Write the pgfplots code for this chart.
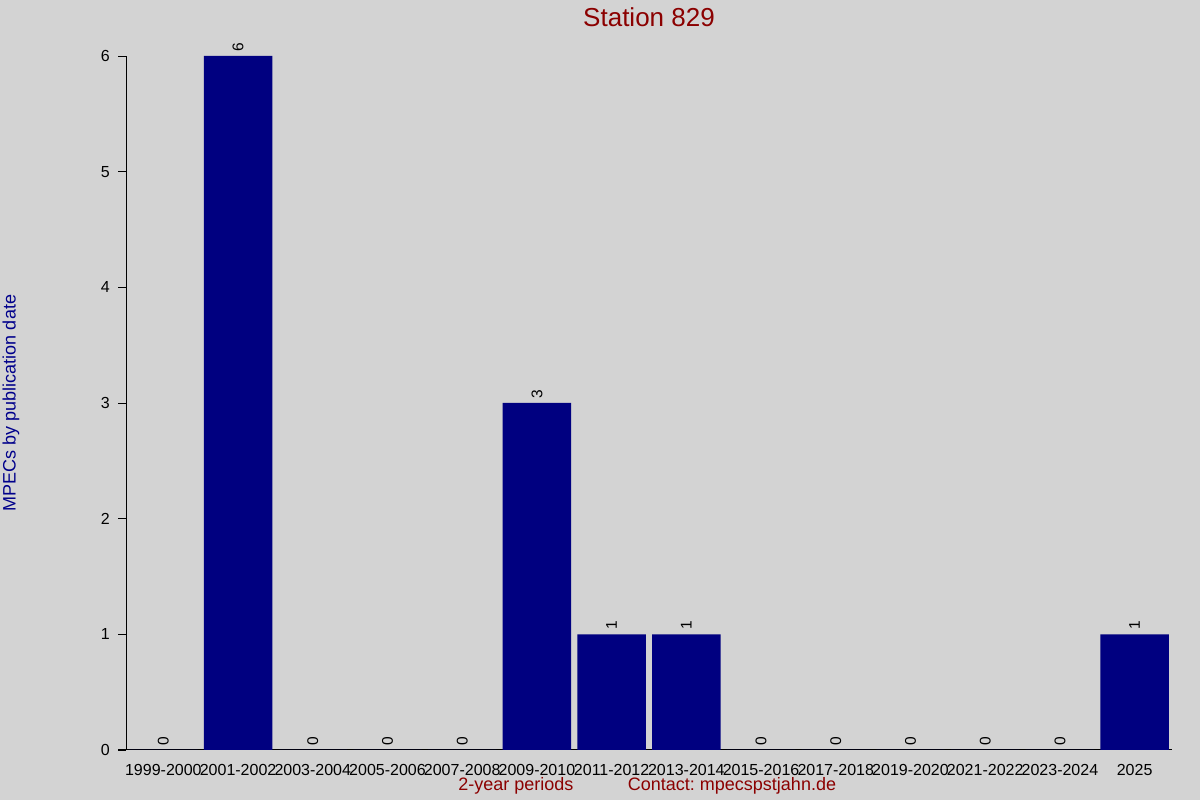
\documentclass[border=0pt]{standalone}
\usepackage{pgfplots}
\pgfplotsset{compat=1.18}
\usepackage{fontspec}
\setmainfont{Liberation Sans}
\frenchspacing
\definecolor{bg}{HTML}{D3D3D3}
\definecolor{barblue}{HTML}{000080}
\definecolor{titred}{HTML}{8B0000}
\definecolor{ylab}{HTML}{00008B}
\begin{document}
\begin{tikzpicture}[x=1pt,y=1pt]
\fill[bg] (0,0) rectangle (1200,800);
\useasboundingbox (0,0) rectangle (1200,800);
\begin{axis}[
  at={(126pt,50pt)}, anchor=south west,
  scale only axis, width=1046pt, height=694pt,
  xmin=-0.5, xmax=13.5, ymin=0, ymax=6,
  axis lines=left,
  x axis line style={-, shorten <=-8pt},
  y axis line style={-},
  ybar, bar width=0.915,
  xtick={0,...,13},
  xticklabels={1999-2000,2001-2002,2003-2004,2005-2006,2007-2008,2009-2010,2011-2012,2013-2014,2015-2016,2017-2018,2019-2020,2021-2022,2023-2024,2025},
  ytick={0,...,6},
  major x tick style={draw=none},
  tick align=outside, major tick length=8pt,
  tick style={black, line width=0.8pt},
  axis line style={black, line width=1pt},
  /pgf/number format/assume math mode=true,
  ticklabel style={font=\fontsize{16}{19}\selectfont},
  xticklabel style={inner sep=0pt, yshift=-6pt},
  yticklabel style={inner sep=0pt, xshift=-8pt},
  nodes near coords,
  every node near coord/.append style={rotate=90, anchor=west, font=\fontsize{15.5}{18}\selectfont, inner sep=4.5pt, black},
  clip=false,
]
\addplot[fill=barblue, draw=none] coordinates {
 (0,0) (1,6) (2,0) (3,0) (4,0) (5,3) (6,1) (7,1) (8,0) (9,0) (10,0) (11,0) (12,0) (13,1)};
\end{axis}
\node[text=titred, font=\fontsize{26}{30}\selectfont] at (649,783) {Station 829};
\node[text=ylab, rotate=90, font=\fontsize{18}{22}\selectfont] at (11,397) {MPECs by publication date};
\node[text=titred, font=\fontsize{18}{22}\selectfont] at (516,14) {2-year periods};
\node[text=titred, font=\fontsize{18}{22}\selectfont] at (732,14) {Contact: mpecspstjahn.de};
\end{tikzpicture}
\end{document}
